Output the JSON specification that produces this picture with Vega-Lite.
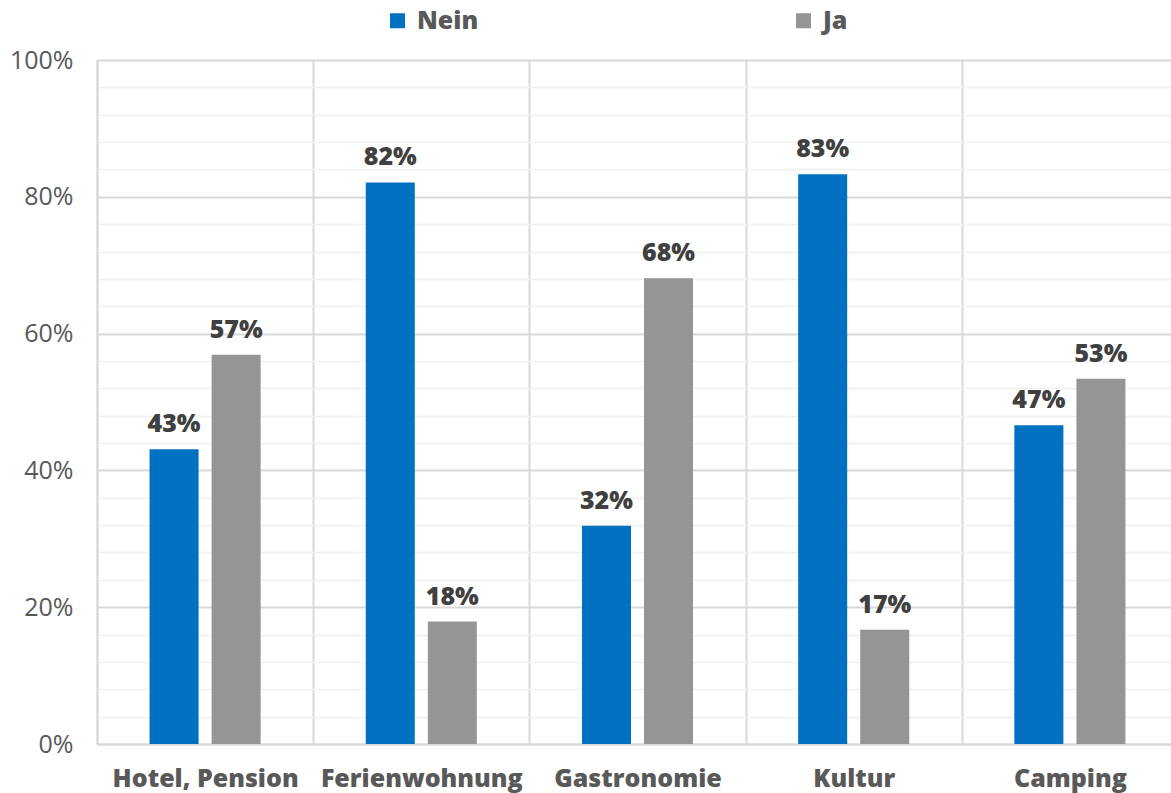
{
  "$schema": "https://vega.github.io/schema/vega-lite/v6.json",
  "width": 1081,
  "height": 684,
  "autosize": {"type": "none"},
  "padding": {"left": 97, "top": 60, "right": -7, "bottom": 49},
  "background": "white",
  "config": {"view": {"stroke": null}, "font": "Open Sans"},
  "data": {
    "values": [
      {"Kategorie": "Hotel, Pension", "Antwort": "Nein", "Anteil": 0.431},
      {"Kategorie": "Hotel, Pension", "Antwort": "Ja", "Anteil": 0.569},
      {"Kategorie": "Ferienwohnung", "Antwort": "Nein", "Anteil": 0.821},
      {"Kategorie": "Ferienwohnung", "Antwort": "Ja", "Anteil": 0.179},
      {"Kategorie": "Gastronomie", "Antwort": "Nein", "Anteil": 0.319},
      {"Kategorie": "Gastronomie", "Antwort": "Ja", "Anteil": 0.681},
      {"Kategorie": "Kultur", "Antwort": "Nein", "Anteil": 0.833},
      {"Kategorie": "Kultur", "Antwort": "Ja", "Anteil": 0.167},
      {"Kategorie": "Camping", "Antwort": "Nein", "Anteil": 0.466},
      {"Kategorie": "Camping", "Antwort": "Ja", "Anteil": 0.534}
    ]
  },
  "encoding": {
    "x": {
      "field": "Kategorie",
      "type": "nominal",
      "sort": ["Hotel, Pension", "Ferienwohnung", "Gastronomie", "Kultur", "Camping"],
      "scale": {"paddingInner": 0, "paddingOuter": 0},
      "axis": {
        "title": null,
        "labelAngle": 0,
        "labelFont": "Open Sans",
        "labelFontSize": 25,
        "labelFontWeight": 800,
        "labelColor": "#595959",
        "labelBaseline": "alphabetic",
        "labelPadding": 42,
        "labelLimit": 400,
        "labelOverlap": false,
        "ticks": false,
        "tickBand": "extent",
        "grid": true,
        "gridColor": "#d9d9d9",
        "gridWidth": 2,
        "domainColor": "#d9d9d9",
        "domainWidth": 2
      }
    },
    "xOffset": {
      "field": "Antwort",
      "type": "nominal",
      "sort": ["Nein", "Ja"],
      "scale": {"paddingInner": 0.21, "paddingOuter": 0.847}
    },
    "y": {
      "field": "Anteil",
      "type": "quantitative",
      "scale": {"domain": [0, 1], "nice": false},
      "axis": {
        "title": null,
        "values": [0, 0.04, 0.08, 0.12, 0.16, 0.2, 0.24, 0.28, 0.32, 0.36, 0.4, 0.44, 0.48, 0.52, 0.56, 0.6, 0.64, 0.68, 0.72, 0.76, 0.8, 0.84, 0.88, 0.92, 0.96, 1],
        "labelExpr": "round(datum.value * 100) % 20 === 0 ? round(datum.value * 100) + '%' : ''",
        "labelFont": "Open Sans",
        "labelFontSize": 25,
        "labelColor": "#595959",
        "labelPadding": 24,
        "ticks": false,
        "domainColor": "#d9d9d9",
        "domainWidth": 2,
        "grid": true,
        "gridColor": {"condition": {"test": "round(datum.value * 100) % 20 === 0", "value": "#d9d9d9"}, "value": "#f0f0f0"},
        "gridWidth": {"condition": {"test": "round(datum.value * 100) % 20 === 0", "value": 2}, "value": 1.5}
      }
    }
  },
  "layer": [
    {
      "mark": {"type": "bar"},
      "encoding": {
        "color": {
          "field": "Antwort",
          "type": "nominal",
          "sort": ["Nein", "Ja"],
          "scale": {"domain": ["Nein", "Ja"], "range": ["#0070C0", "#959595"]},
          "legend": {
            "title": null,
            "orient": "none",
            "direction": "horizontal",
            "legendX": 288,
            "legendY": -52,
            "symbolType": "square",
            "symbolSize": 225,
            "symbolStrokeWidth": 0,
            "labelFont": "Open Sans",
            "labelFontSize": 25,
            "labelFontWeight": 800,
            "labelColor": "#595959",
            "labelOffset": 7,
            "columnPadding": 312
          }
        }
      }
    },
    {
      "mark": {"type": "text", "dy": -17, "fontSize": 25, "fontWeight": 800, "color": "#404040", "baseline": "alphabetic", "font": "Open Sans"},
      "encoding": {
        "text": {"field": "Anteil", "type": "quantitative", "format": ".0%"},
        "detail": {"field": "Antwort"}
      }
    }
  ]
}
